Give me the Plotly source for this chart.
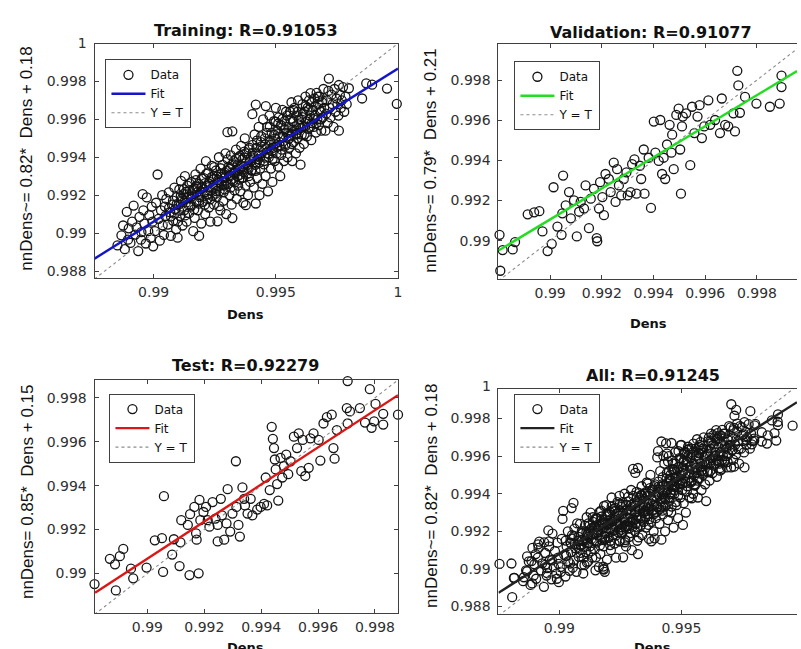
import plotly.graph_objects as go

W, H = 801, 649

# ---------------- data (Dens target, network output) ----------------
train_pts = [
    (0.98755, 0.99027), (0.98852, 0.98935), (0.98868, 0.98988), (0.98875, 0.99040), (0.98882, 0.98915),
    (0.98890, 0.99112), (0.98895, 0.98965), (0.98898, 0.99025),
    (0.98905, 0.98948), (0.98912, 0.99060), (0.98918, 0.99145), (0.98925, 0.98992), (0.98930, 0.99030),
    (0.98937, 0.98905), (0.98942, 0.99085), (0.98948, 0.98965), (0.98950, 0.99005),
    (0.98955, 0.99205), (0.98958, 0.99120), (0.98962, 0.99050), (0.98968, 0.98945), (0.98972, 0.99188),
    (0.98978, 0.99010), (0.98982, 0.99095), (0.98988, 0.98975), (0.98992, 0.99140), (0.98995, 0.99060),
    (0.98998, 0.98930),
    (0.99005, 0.99010), (0.99010, 0.99160), (0.99016, 0.99309), (0.99020, 0.99075), (0.99025, 0.98960),
    (0.99030, 0.99120), (0.99035, 0.99200), (0.99037, 0.99041), (0.99042, 0.98990), (0.99046, 0.99140),
    (0.99048, 0.99090),
    (0.99052, 0.99180), (0.99058, 0.99045), (0.99062, 0.99215), (0.99066, 0.99110), (0.99070, 0.98985),
    (0.99075, 0.99150), (0.99080, 0.99065), (0.99085, 0.99240), (0.99088, 0.99125), (0.99092, 0.99020),
    (0.99095, 0.99190), (0.99098, 0.98976),
    (0.99102, 0.99150), (0.99105, 0.99230), (0.99108, 0.99090), (0.99112, 0.99275), (0.99115, 0.99180),
    (0.99118, 0.99040), (0.99122, 0.99205), (0.99125, 0.99120), (0.99128, 0.99300), (0.99132, 0.99160),
    (0.99135, 0.99060), (0.99138, 0.99250), (0.99141, 0.99190), (0.99145, 0.99105), (0.99148, 0.99225),
    (0.99152, 0.99140), (0.99155, 0.99270), (0.99158, 0.99195), (0.99162, 0.99010), (0.99165, 0.99235),
    (0.99168, 0.99080), (0.99171, 0.99310), (0.99175, 0.99165), (0.99178, 0.99215), (0.99181, 0.99120),
    (0.99184, 0.99260), (0.99186, 0.98985), (0.99188, 0.99190), (0.99192, 0.99340), (0.99195, 0.99050),
    (0.99198, 0.99240),
    (0.99202, 0.99165), (0.99205, 0.99290), (0.99208, 0.99215), (0.99211, 0.99100), (0.99214, 0.99380),
    (0.99217, 0.99250), (0.99220, 0.99180), (0.99223, 0.99320), (0.99226, 0.99135), (0.99229, 0.99270),
    (0.99232, 0.99060), (0.99235, 0.99225), (0.99238, 0.99355), (0.99241, 0.99195), (0.99244, 0.99300),
    (0.99247, 0.99150),
    (0.99252, 0.99245), (0.99255, 0.99330), (0.99258, 0.99190), (0.99261, 0.99062), (0.99264, 0.99280),
    (0.99267, 0.99400), (0.99270, 0.99220), (0.99273, 0.99120), (0.99276, 0.99310), (0.99279, 0.99255),
    (0.99282, 0.99360), (0.99285, 0.99170), (0.99288, 0.99290), (0.99291, 0.99230), (0.99294, 0.99420),
    (0.99297, 0.99100), (0.99299, 0.99330),
    (0.99302, 0.99532), (0.99304, 0.99260), (0.99307, 0.99350), (0.99310, 0.99200), (0.99313, 0.99300),
    (0.99316, 0.99410), (0.99319, 0.99150), (0.99322, 0.99079), (0.99322, 0.99537), (0.99325, 0.99275),
    (0.99328, 0.99380), (0.99331, 0.99225), (0.99334, 0.99330), (0.99337, 0.99440), (0.99340, 0.99180),
    (0.99343, 0.99300), (0.99346, 0.99250), (0.99349, 0.99400),
    (0.99352, 0.99340), (0.99355, 0.99220), (0.99358, 0.99460), (0.99361, 0.99290), (0.99364, 0.99390),
    (0.99367, 0.99160), (0.99370, 0.99320), (0.99373, 0.99500), (0.99376, 0.99250), (0.99377, 0.99147),
    (0.99380, 0.99420), (0.99383, 0.99360), (0.99386, 0.99200), (0.99389, 0.99300), (0.99392, 0.99450),
    (0.99395, 0.99270), (0.99398, 0.99380),
    (0.99402, 0.99330), (0.99404, 0.99627), (0.99407, 0.99410), (0.99410, 0.99240), (0.99413, 0.99520),
    (0.99416, 0.99360), (0.99418, 0.99156), (0.99418, 0.99678), (0.99421, 0.99450), (0.99424, 0.99290),
    (0.99427, 0.99390), (0.99430, 0.99560), (0.99433, 0.99200), (0.99436, 0.99340), (0.99439, 0.99480),
    (0.99442, 0.99420), (0.99445, 0.99260), (0.99448, 0.99600),
    (0.99452, 0.99380), (0.99455, 0.99500), (0.99458, 0.99300), (0.99459, 0.99670), (0.99462, 0.99440),
    (0.99465, 0.99560), (0.99468, 0.99220), (0.99471, 0.99400), (0.99474, 0.99620), (0.99477, 0.99480),
    (0.99480, 0.99340), (0.99483, 0.99530), (0.99486, 0.99270), (0.99489, 0.99450), (0.99492, 0.99590),
    (0.99495, 0.99380), (0.99498, 0.99500), (0.99500, 0.99660),
    (0.99503, 0.99420), (0.99506, 0.99540), (0.99509, 0.99350), (0.99512, 0.99610), (0.99515, 0.99480),
    (0.99518, 0.99300), (0.99521, 0.99570), (0.99524, 0.99440), (0.99527, 0.99650), (0.99530, 0.99510),
    (0.99533, 0.99380), (0.99536, 0.99590), (0.99539, 0.99460), (0.99542, 0.99640), (0.99545, 0.99530),
    (0.99548, 0.99400),
    (0.99552, 0.99560), (0.99555, 0.99450), (0.99558, 0.99640), (0.99561, 0.99510), (0.99564, 0.99690),
    (0.99567, 0.99380), (0.99570, 0.99590), (0.99573, 0.99480), (0.99576, 0.99660), (0.99579, 0.99540),
    (0.99582, 0.99420), (0.99585, 0.99620), (0.99588, 0.99500), (0.99591, 0.99700), (0.99594, 0.99570),
    (0.99597, 0.99450),
    (0.99601, 0.99361), (0.99603, 0.99600), (0.99606, 0.99520), (0.99609, 0.99680), (0.99612, 0.99560),
    (0.99615, 0.99470), (0.99618, 0.99640), (0.99621, 0.99720), (0.99624, 0.99590), (0.99627, 0.99510),
    (0.99630, 0.99660), (0.99633, 0.99550), (0.99636, 0.99700), (0.99639, 0.99620), (0.99642, 0.99738),
    (0.99645, 0.99490), (0.99648, 0.99580),
    (0.99652, 0.99650), (0.99655, 0.99560), (0.99658, 0.99710), (0.99661, 0.99620), (0.99664, 0.99530),
    (0.99667, 0.99740), (0.99670, 0.99600), (0.99673, 0.99680), (0.99676, 0.99570), (0.99679, 0.99720),
    (0.99683, 0.99640), (0.99686, 0.99540), (0.99689, 0.99690), (0.99692, 0.99610), (0.99695, 0.99760),
    (0.99698, 0.99660), (0.99703, 0.99540),
    (0.99706, 0.99630), (0.99709, 0.99700), (0.99712, 0.99580), (0.99715, 0.99750), (0.99717, 0.99815),
    (0.99720, 0.99660), (0.99724, 0.99610), (0.99728, 0.99730), (0.99732, 0.99680), (0.99736, 0.99560),
    (0.99740, 0.99760), (0.99744, 0.99640), (0.99748, 0.99710),
    (0.99752, 0.99680), (0.99756, 0.99620), (0.99758, 0.99781), (0.99758, 0.99540), (0.99762, 0.99730),
    (0.99766, 0.99660), (0.99770, 0.99700), (0.99775, 0.99770), (0.99780, 0.99640), (0.99785, 0.99720),
    (0.99790, 0.99680), (0.99799, 0.99764),
    (0.99853, 0.99710), (0.99870, 0.99790), (0.99894, 0.99783), (0.99955, 0.99762), (0.99995, 0.99682),
    # dense core along the fit
    (0.99118, 0.99172), (0.99133, 0.99218), (0.99151, 0.99148), (0.99159, 0.99204), (0.99174, 0.99247),
    (0.99187, 0.99172), (0.99193, 0.99219), (0.99209, 0.99262), (0.99221, 0.99203), (0.99228, 0.99244),
    (0.99243, 0.99283), (0.99256, 0.99222), (0.99262, 0.99268), (0.99277, 0.99314), (0.99289, 0.99251),
    (0.99295, 0.99297), (0.99311, 0.99338), (0.99318, 0.99284), (0.99333, 0.99322), (0.99344, 0.99362),
    (0.99351, 0.99307), (0.99366, 0.99347), (0.99372, 0.99398), (0.99388, 0.99338), (0.99399, 0.99383),
    (0.99406, 0.99423), (0.99422, 0.99372), (0.99431, 0.99408), (0.99440, 0.99457), (0.99456, 0.99398),
    (0.99461, 0.99447), (0.99476, 0.99488), (0.99484, 0.99433), (0.99497, 0.99472), (0.99509, 0.99522),
    (0.99516, 0.99463), (0.99531, 0.99507), (0.99538, 0.99548), (0.99553, 0.99497), (0.99564, 0.99537),
    (0.99571, 0.99588), (0.99586, 0.99528), (0.99593, 0.99573), (0.99608, 0.99612), (0.99619, 0.99563),
    (0.99631, 0.99603),
    (0.99063, 0.99132), (0.99071, 0.99088), (0.99079, 0.99171), (0.99086, 0.99103), (0.99094, 0.99152),
    (0.99099, 0.99060),
    (0.99104, 0.99118), (0.99111, 0.99196), (0.99117, 0.99139), (0.99124, 0.99232), (0.99129, 0.99093),
    (0.99136, 0.99185), (0.99143, 0.99147), (0.99147, 0.99262),
    (0.99154, 0.99181), (0.99161, 0.99229), (0.99166, 0.99125), (0.99173, 0.99279), (0.99179, 0.99242),
    (0.99185, 0.99155), (0.99191, 0.99201), (0.99197, 0.99288),
    (0.99203, 0.99232), (0.99209, 0.99150), (0.99215, 0.99312), (0.99219, 0.99206), (0.99225, 0.99262),
    (0.99231, 0.99178), (0.99237, 0.99295), (0.99242, 0.99238), (0.99248, 0.99348),
    (0.99253, 0.99208), (0.99259, 0.99298), (0.99265, 0.99245), (0.99268, 0.99142), (0.99274, 0.99342),
    (0.99280, 0.99273), (0.99286, 0.99215), (0.99292, 0.99318), (0.99298, 0.99265),
    (0.99303, 0.99389), (0.99309, 0.99303), (0.99315, 0.99240), (0.99321, 0.99360), (0.99327, 0.99318),
    (0.99332, 0.99268), (0.99338, 0.99392), (0.99344, 0.99335), (0.99350, 0.99282),
    (0.99354, 0.99408), (0.99360, 0.99352), (0.99366, 0.99292), (0.99371, 0.99430), (0.99377, 0.99368),
    (0.99383, 0.99312), (0.99389, 0.99441), (0.99394, 0.99388), (0.99399, 0.99331),
    (0.99405, 0.99465), (0.99411, 0.99395), (0.99417, 0.99328), (0.99423, 0.99488), (0.99428, 0.99420),
    (0.99434, 0.99372), (0.99440, 0.99510), (0.99446, 0.99442),
    (0.99451, 0.99362), (0.99457, 0.99468), (0.99463, 0.99529), (0.99469, 0.99418), (0.99475, 0.99561),
    (0.99481, 0.99465), (0.99487, 0.99392), (0.99493, 0.99518), (0.99499, 0.99588),
    (0.99504, 0.99456), (0.99510, 0.99578), (0.99516, 0.99508), (0.99522, 0.99412), (0.99528, 0.99602),
    (0.99534, 0.99544), (0.99540, 0.99470), (0.99546, 0.99620),
    (0.99553, 0.99528), (0.99559, 0.99600), (0.99565, 0.99470), (0.99571, 0.99650), (0.99577, 0.99562),
    (0.99583, 0.99520), (0.99589, 0.99640), (0.99596, 0.99600),
    (0.99604, 0.99555), (0.99611, 0.99630), (0.99617, 0.99520), (0.99623, 0.99670), (0.99629, 0.99600),
    (0.99635, 0.99650), (0.99641, 0.99560), (0.99647, 0.99690),
    (0.99654, 0.99600), (0.99660, 0.99670), (0.99666, 0.99580), (0.99672, 0.99720), (0.99678, 0.99650),
    (0.99685, 0.99600), (0.99691, 0.99700),
]

val_pts = [
    (0.98804, 0.99029), (0.98807, 0.98850), (0.98816, 0.98953), (0.98855, 0.98956), (0.98864, 0.98993),
    (0.98913, 0.99131), (0.98938, 0.99141), (0.98958, 0.99147), (0.98970, 0.99046), (0.98990, 0.98948),
    (0.99006, 0.98984), (0.99013, 0.99266), (0.99028, 0.99070), (0.99044, 0.99029), (0.99047, 0.99136),
    (0.99050, 0.99324), (0.99060, 0.99176), (0.99073, 0.99242), (0.99080, 0.99111), (0.99092, 0.99201),
    (0.99103, 0.99021), (0.99112, 0.99144), (0.99118, 0.99193), (0.99131, 0.99160), (0.99137, 0.99275),
    (0.99150, 0.99062), (0.99157, 0.99209), (0.99169, 0.99258), (0.99180, 0.99013), (0.99182, 0.98997),
    (0.99189, 0.99160), (0.99193, 0.99291), (0.99202, 0.99217), (0.99208, 0.99127), (0.99214, 0.99332),
    (0.99227, 0.99307), (0.99234, 0.99242), (0.99246, 0.99389), (0.99253, 0.99193), (0.99259, 0.99356),
    (0.99266, 0.99275), (0.99275, 0.99225), (0.99285, 0.99307), (0.99295, 0.99340), (0.99300, 0.99225),
    (0.99311, 0.99242), (0.99317, 0.99381), (0.99326, 0.99405), (0.99334, 0.99234), (0.99347, 0.99373),
    (0.99352, 0.99307), (0.99362, 0.99454), (0.99365, 0.99234), (0.99381, 0.99413), (0.99390, 0.99163),
    (0.99401, 0.99593), (0.99407, 0.99438), (0.99420, 0.99397), (0.99426, 0.99601), (0.99433, 0.99332),
    (0.99439, 0.99413), (0.99445, 0.99307), (0.99452, 0.99479), (0.99462, 0.99577), (0.99469, 0.99438),
    (0.99472, 0.99528), (0.99478, 0.99356), (0.99488, 0.99626), (0.99497, 0.99658), (0.99503, 0.99454),
    (0.99506, 0.99234), (0.99510, 0.99569), (0.99513, 0.99618), (0.99526, 0.99634), (0.99542, 0.99376),
    (0.99549, 0.99667), (0.99558, 0.99536), (0.99570, 0.99618), (0.99578, 0.99675), (0.99587, 0.99511),
    (0.99596, 0.99569), (0.99612, 0.99699), (0.99619, 0.99577), (0.99638, 0.99601), (0.99657, 0.99536),
    (0.99664, 0.99708), (0.99677, 0.99577), (0.99689, 0.99569), (0.99709, 0.99634), (0.99715, 0.99544),
    (0.99724, 0.99846), (0.99728, 0.99773), (0.99734, 0.99637), (0.99754, 0.99716), (0.99798, 0.99683),
    (0.99850, 0.99667), (0.99888, 0.99683), (0.99895, 0.99765), (0.99895, 0.99822),
]

test_pts = [
    (0.98814, 0.98952), (0.98868, 0.99067), (0.98886, 0.99042), (0.98903, 0.99079), (0.98915, 0.99112),
    (0.98889, 0.98923), (0.98942, 0.99022), (0.98950, 0.98978), (0.98997, 0.99027), (0.99026, 0.99151),
    (0.99051, 0.99161), (0.99055, 0.99007), (0.99058, 0.99352), (0.99087, 0.99086), (0.99093, 0.99156),
    (0.99113, 0.99034), (0.99116, 0.99142), (0.99119, 0.99243), (0.99142, 0.99221), (0.99148, 0.98993),
    (0.99150, 0.99270), (0.99165, 0.99303), (0.99171, 0.99183), (0.99173, 0.99154), (0.99180, 0.99001),
    (0.99183, 0.99335), (0.99186, 0.99243), (0.99197, 0.99280), (0.99206, 0.99303), (0.99212, 0.99243),
    (0.99218, 0.99213), (0.99229, 0.99325), (0.99239, 0.99250), (0.99247, 0.99221), (0.99247, 0.99146),
    (0.99258, 0.99340), (0.99262, 0.99265), (0.99270, 0.99154), (0.99278, 0.99228), (0.99282, 0.99384),
    (0.99291, 0.99191), (0.99299, 0.99273), (0.99311, 0.99511), (0.99313, 0.99303), (0.99320, 0.99221),
    (0.99325, 0.99168), (0.99334, 0.99392), (0.99340, 0.99340), (0.99343, 0.99310), (0.99352, 0.99273),
    (0.99363, 0.99340), (0.99369, 0.99265), (0.99386, 0.99291), (0.99398, 0.99303), (0.99410, 0.99317),
    (0.99416, 0.99437), (0.99421, 0.99310), (0.99430, 0.99380), (0.99437, 0.99668), (0.99441, 0.99613),
    (0.99445, 0.99571), (0.99448, 0.99519), (0.99451, 0.99474), (0.99456, 0.99407), (0.99460, 0.99332),
    (0.99468, 0.99526), (0.99474, 0.99437), (0.99480, 0.99489), (0.99488, 0.99541), (0.99495, 0.99452),
    (0.99503, 0.99511), (0.99515, 0.99623), (0.99526, 0.99571), (0.99532, 0.99638), (0.99541, 0.99466),
    (0.99546, 0.99608), (0.99555, 0.99444), (0.99567, 0.99481), (0.99573, 0.99615), (0.99584, 0.99638),
    (0.99602, 0.99608), (0.99608, 0.99514), (0.99619, 0.99683), (0.99631, 0.99712), (0.99648, 0.99723),
    (0.99654, 0.99571), (0.99658, 0.99523), (0.99666, 0.99653), (0.99701, 0.99753), (0.99704, 0.99683),
    (0.99704, 0.99876), (0.99712, 0.99738), (0.99747, 0.99753), (0.99765, 0.99687), (0.99782, 0.99839),
    (0.99788, 0.99663), (0.99797, 0.99693), (0.99802, 0.99772), (0.99829, 0.99678), (0.99829, 0.99727),
    (0.99881, 0.99723),
]

train_dens = [p[0] for p in train_pts]
train_out = [p[1] for p in train_pts]
val_dens = [p[0] for p in val_pts]
val_out = [p[1] for p in val_pts]
test_dens = [p[0] for p in test_pts]
test_out = [p[1] for p in test_pts]
all_dens = train_dens + val_dens + test_dens
all_out = train_out + val_out + test_out

# fitted regression lines, read at the left and right axis limits
train_fit_x = [0.98758, 1.0]
train_fit_y = [0.98865, 0.99868]
val_fit_x = [0.98800, 0.99955]
val_fit_y = [0.98951, 0.99845]
test_fit_x = [0.98816, 0.99881]
test_fit_y = [0.98912, 0.99812]
all_fit_x = [0.98751, 0.99973]
all_fit_y = [0.98873, 0.99887]

titles = ["Training: R=0.91053", "Validation: R=0.91077", "Test: R=0.92279", "All: R=0.91245"]
ylabels = ["nnDens~= 0.82*  Dens + 0.18", "nnDens~= 0.79*  Dens + 0.21",
           "nnDens= 0.85*  Dens + 0.15", "nnDens~= 0.82*  Dens + 0.18"]
xlabel = "Dens"
fit_colors = ["#1414c8", "#22dd22", "#dd1515", "#222222"]

# ---------------- layout helpers ----------------
def px(x):
    return x / W

def py(y):
    return 1 - y / H

panels = [
    dict(dens=train_dens, out=train_out, fx=train_fit_x, fy=train_fit_y,
         xr=[0.98758, 1.0], yr=[0.98762, 1.0], box=(95, 400, 36, 274), clip=False,
         xt=[0.99, 0.995, 1.0], xtt=["0.99", "0.995", "1"],
         yt=[0.988, 0.99, 0.992, 0.994, 0.996, 0.998, 1.0],
         ytt=["0.988", "0.99", "0.992", "0.994", "0.996", "0.998", "1"],
         title_pos=(247, 23), ylab_pos=(27, 153), xlab=(247, 311), leg=(106, 52)),
    dict(dens=val_dens, out=val_out, fx=val_fit_x, fy=val_fit_y,
         xr=[0.98800, 0.99955], yr=[0.98808, 0.99982], box=(501, 801, 36, 275), clip=True,
         xt=[0.99, 0.992, 0.994, 0.996, 0.998], xtt=["0.99", "0.992", "0.994", "0.996", "0.998"],
         yt=[0.99, 0.992, 0.994, 0.996, 0.998], ytt=["0.99", "0.992", "0.994", "0.996", "0.998"],
         title_pos=(654, 25), ylab_pos=(433, 155), xlab=(652, 320), leg=(517, 54)),
    dict(dens=test_dens, out=test_out, fx=test_fit_x, fy=test_fit_y,
         xr=[0.98814, 0.99881], yr=[0.98818, 0.99882], box=(95, 400, 377, 614), clip=False,
         xt=[0.99, 0.992, 0.994, 0.996, 0.998], xtt=["0.99", "0.992", "0.994", "0.996", "0.998"],
         yt=[0.99, 0.992, 0.994, 0.996, 0.998], ytt=["0.99", "0.992", "0.994", "0.996", "0.998"],
         title_pos=(247, 363), ylab_pos=(27, 490), xlab=(247, 648), leg=(110, 391)),
    dict(dens=all_dens, out=all_out, fx=all_fit_x, fy=all_fit_y,
         xr=[0.98751, 0.99973], yr=[0.98758, 0.99959], box=(501, 801, 386, 615), clip=True,
         xt=[0.99, 0.995], xtt=["0.99", "0.995"],
         yt=[0.988, 0.99, 0.992, 0.994, 0.996, 0.998],
         ytt=["0.988", "0.99", "0.992", "0.994", "0.996", "0.998"],
         title_pos=(656, 373), ylab_pos=(433, 495), xlab=(656, 648), leg=(517, 391)),
]

AXC = "#404040"
TICKFONT = dict(family="DejaVu Sans", size=14, color="#303030")

fig = go.Figure()
layout = dict(width=W, height=H, margin=dict(l=0, r=0, t=0, b=0),
              paper_bgcolor="white", plot_bgcolor="white", showlegend=True)
annotations = []

for i, p in enumerate(panels, start=1):
    sx = "" if i == 1 else str(i)
    xa, ya = "x" + sx, "y" + sx
    leg = "legend" if i == 1 else "legend" + str(i)
    l, r, t, b = p["box"]
    fig.add_trace(go.Scatter(
        x=p["dens"], y=p["out"], mode="markers", name="Data", xaxis=xa, yaxis=ya, legend=leg,
        legendrank=1, cliponaxis=False,
        marker=dict(symbol="circle-open", size=9, color="#141414", line=dict(width=1.3)),
        hoverinfo="skip"))
    lims = [min(p["xr"][0], p["yr"][0]), max(p["xr"][1], p["yr"][1])]
    fig.add_trace(go.Scatter(
        x=lims, y=lims, mode="lines", name="Y = T", xaxis=xa, yaxis=ya, legend=leg,
        legendrank=3, line=dict(color="#8c8c8c", width=1.1, dash="dot"), hoverinfo="skip"))
    fig.add_trace(go.Scatter(
        x=p["fx"], y=p["fy"], mode="lines", name="Fit", xaxis=xa, yaxis=ya, legend=leg,
        legendrank=2, line=dict(color=fit_colors[i - 1], width=2.4), hoverinfo="skip"))

    layout["xaxis" + sx] = dict(
        domain=[px(l), min(1.0, px(r))], range=p["xr"], anchor=ya,
        tickvals=p["xt"], ticktext=p["xtt"], ticks="inside", ticklen=4, tickcolor=AXC,
        showline=True, linecolor=AXC, linewidth=1, mirror="ticks",
        showgrid=False, zeroline=False, tickfont=TICKFONT, ticklabelstandoff=1)
    layout["yaxis" + sx] = dict(
        domain=[py(b), py(t)], range=p["yr"], anchor=xa,
        tickvals=p["yt"], ticktext=p["ytt"], ticks="inside", ticklen=4, tickcolor=AXC,
        showline=True, linecolor=AXC, linewidth=1, mirror=False if p["clip"] else "ticks",
        showgrid=False, zeroline=False, tickfont=TICKFONT, ticklabelstandoff=4)
    if i == 4:
        # tick label "1" at the top-left corner of the All panel
        annotations.append(dict(text="1", x=px(l - 6), y=py(t - 3), xref="paper", yref="paper",
                                xanchor="right", yanchor="middle", showarrow=False, font=TICKFONT))

    lx, ly = p["leg"]
    layout[leg] = dict(x=px(lx), y=py(ly), xref="paper", yref="paper", xanchor="left", yanchor="top",
                       bgcolor="white", bordercolor=AXC, borderwidth=1, tracegroupgap=0,
                       font=dict(family="DejaVu Sans", size=12, color="#111"),
                       itemwidth=34, traceorder="normal")

    tx, ty = p["title_pos"]
    annotations.append(dict(text="<b>" + titles[i - 1] + "</b>", x=px(tx), y=py(ty), xref="paper",
                            yref="paper", xanchor="center", yanchor="middle", showarrow=False,
                            font=dict(family="DejaVu Sans", size=16, color="#111")))
    yx, yy = p["ylab_pos"]
    annotations.append(dict(text=ylabels[i - 1], x=px(yx), y=py(yy), xref="paper", yref="paper",
                            xanchor="center", yanchor="middle", textangle=-90, showarrow=False,
                            font=dict(family="Liberation Sans", size=17, color="#111")))
    xx, xy = p["xlab"]
    annotations.append(dict(text="<b>" + xlabel + "</b>", x=px(xx), y=py(xy), xref="paper",
                            yref="paper", xanchor="center", yanchor="middle", showarrow=False,
                            font=dict(family="DejaVu Sans", size=13, color="#111")))

layout["annotations"] = annotations
fig.update_layout(**layout)
fig.write_html("out.html", config={"displayModeBar": False},
               post_script="document.body.style.margin='0';document.body.style.overflow='hidden';")
